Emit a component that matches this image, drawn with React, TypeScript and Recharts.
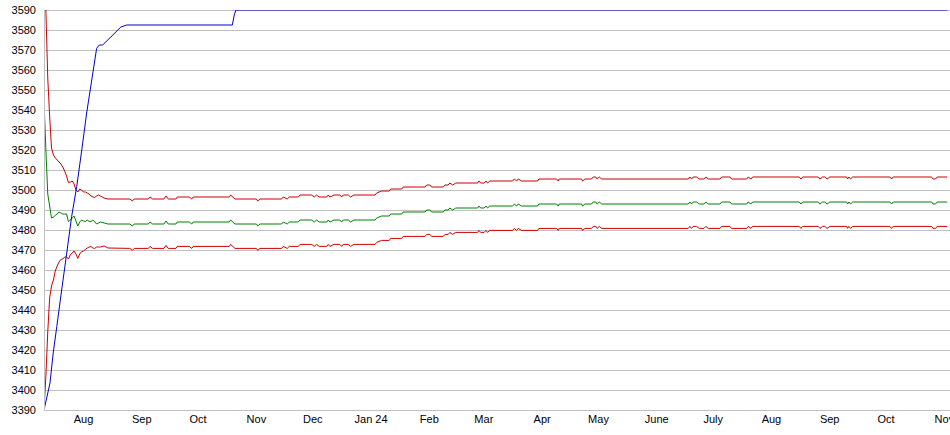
import React from 'react';
import { LineChart, Line, XAxis, YAxis, CartesianGrid } from 'recharts';

// day 0 = 11 Jul 2023
const days = [
  0, 1, 2, 3, 4, 5, 6, 7, 8, 9, 10, 11, 12, 13, 14, 15, 16, 17, 18, 19, 20,
  21, 22, 23, 24, 25, 26, 27, 28, 29, 30, 32, 34,
  45.7, 47, 48, 55.5, 56.4, 57.8, 63.8, 64.9, 66.1, 70.2,
  70.9, 77.3, 78.6, 79.4, 98.6, 99.3, 101.6, 113, 113.7, 114.9,
  126.4, 127.3, 129.4, 130.5, 135.3, 136.2, 142.4, 143.8, 145, 146.4,
  150.4, 151.2, 152.1, 154.3, 157.4, 158.4, 159.2, 161.9, 163.1, 164.9,
  176.1, 177, 179.6, 183.7, 184.4, 190.3, 191.1, 202.7, 203.6, 205.3,
  206.2, 212.4, 213.3, 215, 215.9, 217.4, 219.1, 230.7, 231.4, 232.3,
  234.2, 235.1, 236, 237.2, 249.3, 250.2, 251.4, 252.3, 254.1, 262.6,
  263.3, 272.7, 273.6, 274.1, 286, 286.5, 287.8, 291.3, 292.2, 293.6,
  294.3, 295.4, 296.7, 342.7, 343.6, 344.5, 345.4, 347.2, 348.6, 351.1,
  352.1, 353.4, 359.6, 360.5, 364.9, 365.8, 373.8, 374.6, 376.1, 377,
  401.8, 402.7, 403.6, 411.9, 412.8, 414.2, 415.4, 416.6, 418.1, 427,
  427.5, 428.2, 429.1, 430.2, 450, 450.9, 451.8, 472.2, 473, 474.3,
  475.2, 480.5,
];

const upper = [
  3590, 3590, 3556, 3537, 3521, 3517.5, 3516, 3515, 3514, 3513, 3511.5, 3509.5, 3507, 3503.7, 3504, 3504.5, 3503,
  3500, 3499, 3500.5, 3500, 3499, 3499, 3498.5, 3498, 3497, 3496.5, 3496.3, 3497, 3497.5, 3497, 3496, 3495.5,
  3495.5, 3494.5, 3495.5, 3495.5, 3496.5, 3495.5, 3495.5, 3497, 3495.5, 3495.5,
  3496.5, 3496.5, 3495.5, 3496.5, 3496.5, 3497.5, 3495.5, 3495.5, 3494.5, 3495.5,
  3495.5, 3496.5, 3495.5, 3496.5, 3496.5, 3497.5, 3497.5, 3496.5, 3497.5, 3496.5,
  3496.5, 3497.5, 3496.5, 3497.5, 3497.5, 3496.5, 3497.5, 3497.5, 3496.5, 3497.5,
  3497.5, 3498.5, 3499.5, 3499.5, 3500.5, 3500.5, 3501.5, 3501.5, 3502.5, 3502.5,
  3501.5, 3501.5, 3502.5, 3502.5, 3503.5, 3502.5, 3503.5, 3503.5, 3504.5, 3503.5,
  3503.5, 3504.5, 3503.5, 3504.5, 3504.5, 3505.5, 3504.5, 3505.5, 3504.5, 3504.5,
  3505.5, 3505.5, 3504.5, 3505.5, 3505.5, 3504.5, 3505.5, 3505.5, 3506.5, 3506.5,
  3505.5, 3506.5, 3505.5, 3505.5, 3506.5, 3505.5, 3506.5, 3506.5, 3505.5, 3505.5,
  3506.5, 3505.5, 3505.5, 3506.5, 3506.5, 3505.5, 3505.5, 3506.5, 3505.5, 3506.5,
  3506.5, 3505.5, 3506.5, 3506.5, 3505.5, 3506.5, 3506.5, 3505.5, 3506.5, 3506.5,
  3505.5, 3506.5, 3505.5, 3506.5, 3506.5, 3505.5, 3506.5, 3506.5, 3505.5, 3505.5,
  3506.5, 3506.5,
];

const middle = [
  3545, 3520, 3498, 3492, 3486, 3486.5, 3487.3, 3488, 3489, 3488.5, 3488, 3488, 3488, 3484.2, 3485, 3486, 3487,
  3484.5, 3482, 3484, 3485, 3484.5, 3484.2, 3485, 3484.3, 3484.2, 3485, 3484, 3483, 3483.5, 3484, 3483.5, 3483,
  3483, 3482, 3483, 3483, 3484, 3483, 3483, 3484.5, 3483, 3483,
  3484, 3484, 3483, 3484, 3484, 3485, 3483, 3483, 3482, 3483,
  3483, 3484, 3483, 3484, 3484, 3485, 3485, 3484, 3485, 3484,
  3484, 3485, 3484, 3485, 3485, 3484, 3485, 3485, 3484, 3485,
  3485, 3486, 3487, 3487, 3488, 3488, 3489, 3489, 3490, 3490,
  3489, 3489, 3490, 3490, 3491, 3490, 3491, 3491, 3492, 3491,
  3491, 3492, 3491, 3492, 3492, 3493, 3492, 3493, 3492, 3492,
  3493, 3493, 3492, 3493, 3493, 3492, 3493, 3493, 3494, 3494,
  3493, 3494, 3493, 3493, 3494, 3493, 3494, 3494, 3493, 3493,
  3494, 3493, 3493, 3494, 3494, 3493, 3493, 3494, 3493, 3494,
  3494, 3493, 3494, 3494, 3493, 3494, 3494, 3493, 3494, 3494,
  3493, 3494, 3493, 3494, 3494, 3493, 3494, 3494, 3493, 3493,
  3494, 3494,
];

const lower = [
  3390, 3407, 3429, 3446, 3452, 3455, 3459.5, 3462, 3464, 3465.3, 3465.5, 3466.5, 3466.5, 3465.5, 3467.5, 3468.5, 3469.5,
  3468, 3465.8, 3468, 3469.2, 3469.5, 3470.3, 3471, 3471.5, 3471.7, 3471, 3470.8, 3471.5, 3471.5, 3471.5, 3472, 3471,
  3470.8, 3469.8, 3470.8, 3470.8, 3471.8, 3470.8, 3470.8, 3472.3, 3470.8, 3470.8,
  3471.8, 3471.8, 3470.8, 3471.8, 3471.8, 3472.8, 3470.8, 3470.8, 3469.8, 3470.8,
  3470.8, 3471.8, 3470.8, 3471.8, 3471.8, 3472.8, 3472.8, 3471.8, 3472.8, 3471.8,
  3471.8, 3472.8, 3471.8, 3472.8, 3472.8, 3471.8, 3472.8, 3472.8, 3471.8, 3472.8,
  3472.8, 3473.8, 3474.8, 3474.8, 3475.8, 3475.8, 3476.8, 3476.8, 3477.8, 3477.8,
  3476.8, 3476.8, 3477.8, 3477.8, 3478.8, 3477.8, 3478.8, 3478.8, 3479.8, 3478.8,
  3478.8, 3479.8, 3478.8, 3479.8, 3479.8, 3480.8, 3479.8, 3480.8, 3479.8, 3479.8,
  3480.8, 3480.8, 3479.8, 3480.8, 3480.8, 3479.8, 3480.8, 3480.8, 3481.8, 3481.8,
  3480.8, 3481.8, 3480.8, 3480.8, 3481.8, 3480.8, 3481.8, 3481.8, 3480.8, 3480.8,
  3481.8, 3480.8, 3480.8, 3481.8, 3481.8, 3480.8, 3480.8, 3481.8, 3480.8, 3481.8,
  3481.8, 3480.8, 3481.8, 3481.8, 3480.8, 3481.8, 3481.8, 3480.8, 3481.8, 3481.8,
  3480.8, 3481.8, 3480.8, 3481.8, 3481.8, 3480.8, 3481.8, 3481.8, 3480.8, 3480.8,
  3481.8, 3481.8,
];

const blueDays = [0, 3.2, 4.9, 6.8, 9.4, 12.1, 14.7, 17.4, 20.1, 22.7, 25.4, 28, 29.4, 31.2, 40.9, 44, 100.2, 101.2, 102.1, 480.5];
const blueValues = [3390, 3403.5, 3418.5, 3431.7, 3450, 3468.5, 3486.7, 3501.7, 3520, 3538.5, 3555, 3570.8, 3572.5, 3572.5, 3581.5, 3582.5, 3582.5, 3587.5, 3590, 3590];

const monthTicks = [21, 52, 82, 113, 143, 174, 205, 234, 265, 295, 326, 356, 387, 418, 448, 479];
const monthLabels = ['Aug', 'Sep', 'Oct', 'Nov', 'Dec', 'Jan 24', 'Feb', 'Mar', 'Apr', 'May', 'June', 'July', 'Aug', 'Sep', 'Oct', 'Nov'];

const yTicks = [
  3390, 3400, 3410, 3420, 3430, 3440, 3450, 3460, 3470, 3480, 3490,
  3500, 3510, 3520, 3530, 3540, 3550, 3560, 3570, 3580, 3590,
];

const bandData = days.map((d, i) => ({ d, upper: upper[i], middle: middle[i], lower: lower[i] }));
const blueData = blueDays.map((d, i) => ({ d, blue: blueValues[i] }));

const font = 'Liberation Sans, Arial, sans-serif';
const tickStyle = { fontSize: 11, fill: '#000', fontFamily: font };

export default function App() {
  return (
    <div style={{ position: 'absolute', left: 0, top: 0, width: 950, height: 435, background: '#fff', fontFamily: font }}>
      <style>{'.recharts-cartesian-grid line, .recharts-cartesian-axis-line { shape-rendering: crispEdges; }'}</style>
      <LineChart width={950} height={435} margin={{ top: 10, right: 0, bottom: 0, left: 0 }}>
        <CartesianGrid vertical={false} stroke="#c0c0c0" strokeWidth={1} />
        <XAxis
          dataKey="d"
          type="number"
          domain={[0, 482]}
          ticks={monthTicks}
          interval={0}
          tickFormatter={(v: number) => monthLabels[monthTicks.indexOf(v)]}
          tick={tickStyle}
          tickLine={false}
          tickSize={3}
          axisLine={{ stroke: '#c0c0c0' }}
          height={25}
          allowDataOverflow
        />
        <YAxis
          type="number"
          domain={[3390, 3590]}
          ticks={yTicks}
          interval={0}
          tick={tickStyle}
          tickLine={false}
          axisLine={{ stroke: '#c0c0c0' }}
          width={44}
          allowDataOverflow
        />
        <Line data={bandData} dataKey="upper" stroke="#cc0000" strokeWidth={1} dot={false} activeDot={false} isAnimationActive={false} type="linear" />
        <Line data={bandData} dataKey="middle" stroke="#008000" strokeWidth={1} dot={false} activeDot={false} isAnimationActive={false} type="linear" />
        <Line data={bandData} dataKey="lower" stroke="#cc0000" strokeWidth={1} dot={false} activeDot={false} isAnimationActive={false} type="linear" />
        <Line data={blueData} dataKey="blue" stroke="#0000cc" strokeWidth={1} dot={false} activeDot={false} isAnimationActive={false} type="linear" />
      </LineChart>
    </div>
  );
}
